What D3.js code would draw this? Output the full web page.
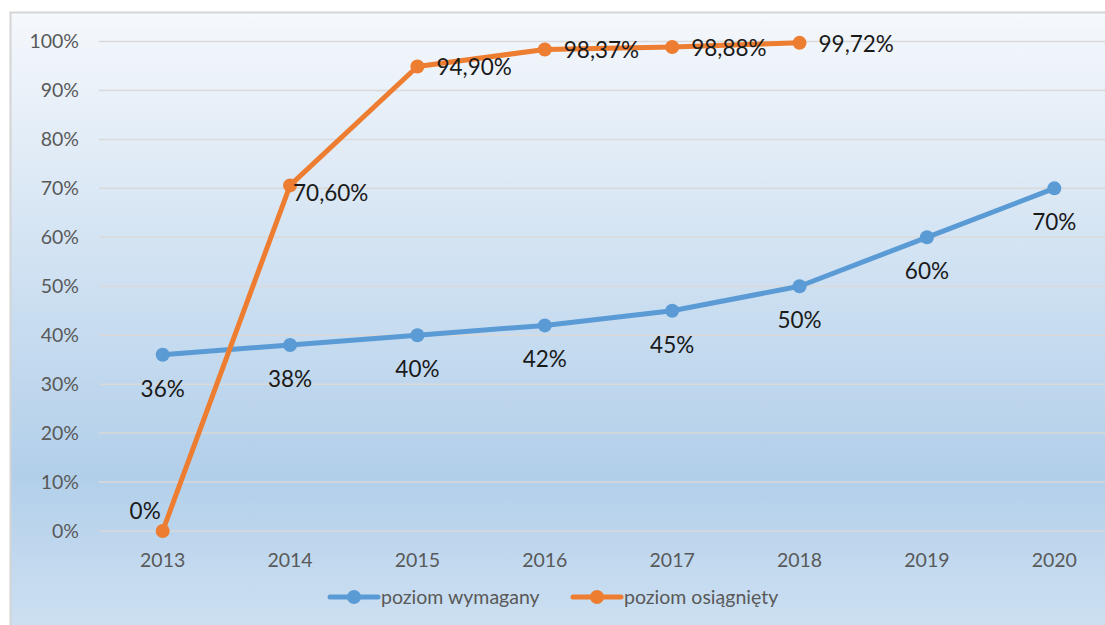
<!DOCTYPE html>
<meta charset="utf-8">
<style>
    body { margin: 0; background: #fff; }
    text { font-family: Lato, "Open Sans", sans-serif; }
</style>
<script src="https://d3js.org/d3.v7.min.js"></script>
<body>
<script>
    var years = ["2013", "2014", "2015", "2016", "2017", "2018", "2019", "2020"];
    var required = [36, 38, 40, 42, 45, 50, 60, 70];
    var achieved = [0, 70.60, 94.90, 98.37, 98.88, 99.72];
    var yTicks = [0, 10, 20, 30, 40, 50, 60, 70, 80, 90, 100];
    var seriesNames = ["poziom wymagany", "poziom osiągnięty"];
    var colors = ["#5b9bd5", "#ed7d31"];

    var width = 1105;
    var height = 625;

    var svg = d3.select("body").append("svg")
        .attr("width", width)
        .attr("height", height);

    var grad = svg.append("defs").append("linearGradient")
        .attr("id", "bg").attr("x1", 0).attr("y1", 0).attr("x2", 0).attr("y2", 1);
    grad.append("stop").attr("offset", "0%").attr("stop-color", "#f5f8fc");
    grad.append("stop").attr("offset", "74%").attr("stop-color", "#b2cfea");
    grad.append("stop").attr("offset", "100%").attr("stop-color", "#cfe1f2");

    svg.append("rect")
        .attr("x", 10.5).attr("y", 12.5)
        .attr("width", width).attr("height", height)
        .attr("fill", "url(#bg)")
        .attr("stroke", "#d4d4d4").attr("stroke-width", 2);

    var x = d3.scaleBand().domain(years).range([99, 1118]);
    var y = d3.scaleLinear().domain([0, 100]).range([531, 41.5]);
    var cx = function(d, i) { return x(years[i]) + x.bandwidth() / 2; };

    // gridlines
    svg.append("g").selectAll("line")
        .data(yTicks)
        .enter().append("line")
        .attr("x1", 99).attr("x2", width)
        .attr("y1", function(d) { return y(d); })
        .attr("y2", function(d) { return y(d); })
        .attr("stroke", "#d9d9d9").attr("stroke-width", 1.5);

    // y labels
    svg.append("g").selectAll("text")
        .data(yTicks)
        .enter().append("text")
        .attr("x", 79).attr("y", function(d) { return y(d); })
        .attr("dy", "0.35em")
        .attr("text-anchor", "end")
        .attr("font-size", 19.5).attr("fill", "#595959")
        .text(function(d) { return d + "%"; });

    // x labels
    svg.append("g").selectAll("text")
        .data(years)
        .enter().append("text")
        .attr("x", function(d) { return x(d) + x.bandwidth() / 2; })
        .attr("y", 560).attr("dy", "0.35em")
        .attr("text-anchor", "middle")
        .attr("font-size", 19.5).attr("fill", "#595959")
        .text(function(d) { return d; });

    var line = d3.line()
        .x(function(d, i) { return cx(d, i); })
        .y(function(d) { return y(d); });

    [required, achieved].forEach(function(values, s) {
        var g = svg.append("g");
        g.append("path")
            .datum(values)
            .attr("d", line)
            .attr("fill", "none")
            .attr("stroke", colors[s]).attr("stroke-width", 5)
            .attr("stroke-linejoin", "round").attr("stroke-linecap", "round");
        g.selectAll("circle")
            .data(values)
            .enter().append("circle")
            .attr("cx", cx).attr("cy", function(d) { return y(d); })
            .attr("r", 7).attr("fill", colors[s]);
    });

    // data labels
    svg.append("g").selectAll("text")
        .data(required)
        .enter().append("text")
        .attr("x", cx).attr("y", function(d) { return y(d) + 34; })
        .attr("dy", "0.35em").attr("text-anchor", "middle")
        .attr("font-size", 22.5).attr("fill", "#1a1a1a")
        .text(function(d) { return d + "%"; });

    svg.append("g").selectAll("text")
        .data(achieved)
        .enter().append("text")
        .attr("x", function(d, i) {
            if (i === 0) return cx(d, i) - 2;
            if (i === 1) return cx(d, i) + 3;
            return cx(d, i) + 19;
        })
        .attr("y", function(d, i) {
            if (i === 0) return y(d) - 20;
            if (i === 1) return y(d) + 8;
            return y(d) + 1;
        })
        .attr("dy", "0.35em")
        .attr("text-anchor", function(d, i) { return i === 0 ? "end" : "start"; })
        .attr("font-size", 22.5).attr("fill", "#1a1a1a")
        .text(function(d) { return d === 0 ? "0%" : d.toFixed(2).replace(".", ",") + "%"; });

    // legend
    var legendX = [330, 573];
    var legend = svg.append("g").selectAll("g")
        .data(seriesNames)
        .enter().append("g")
        .attr("transform", function(d, i) { return "translate(" + legendX[i] + ",597)"; });
    legend.append("line")
        .attr("x1", 0).attr("x2", 48)
        .attr("stroke", function(d, i) { return colors[i]; })
        .attr("stroke-width", 5).attr("stroke-linecap", "round");
    legend.append("circle")
        .attr("cx", 24).attr("r", 7)
        .attr("fill", function(d, i) { return colors[i]; });
    legend.append("text")
        .attr("x", 51).attr("dy", "0.35em")
        .attr("font-size", 19.5).attr("fill", "#595959")
        .text(function(d) { return d; });
</script>
